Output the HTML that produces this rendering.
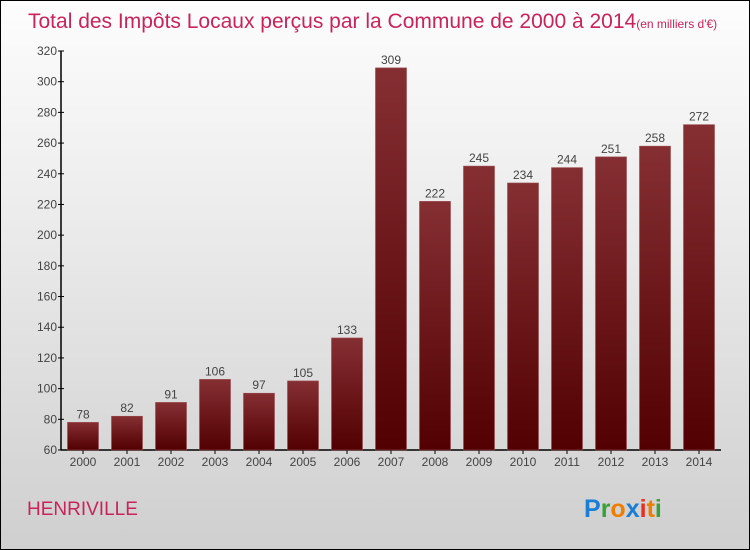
<!DOCTYPE html>
<html><head><meta charset="utf-8"><style>
body{margin:0}
#c{position:relative;width:748px;height:548px;border:1px solid #000;background:linear-gradient(#fdfdfd,#f0f0f0 30%,#cfcfcf);font-family:"Liberation Sans",sans-serif;overflow:hidden}
</style></head><body>
<div id="c">
<svg width="748" height="548">
<defs><linearGradient id="g" x1="0" y1="0" x2="0" y2="1"><stop offset="0" stop-color="#852f33"/><stop offset="1" stop-color="#520002"/></linearGradient></defs>
<text x="27" y="27" font-size="21" fill="#c8245a">Total des Impôts Locaux perçus par la Commune de 2000 à 2014<tspan font-size="12">(en milliers d'€)</tspan></text>
<g id="axes"></g><g id="bars"></g>
<text x="26" y="514" font-size="19" fill="#c8245a">HENRIVILLE</text>
<g font-size="25" font-weight="bold"><text x="583" y="516"><tspan fill="#1a7fd4">P</tspan><tspan fill="#3aa03a">r</tspan><tspan fill="#f07c00">o</tspan><tspan fill="#1a7fd4">x</tspan><tspan fill="#e83020">i</tspan><tspan fill="#f07c00">t</tspan><tspan fill="#3aa03a">i</tspan></text></g>
</svg></div>
<script>
const years=["2000","2001","2002","2003","2004","2005","2006","2007","2008","2009","2010","2011","2012","2013","2014"];
const values=[78,82,91,106,97,105,133,309,222,245,234,244,251,258,272];
const yTicks=[60,80,100,120,140,160,180,200,220,240,260,280,300,320];
const NS="http://www.w3.org/2000/svg";
const x0=60,x1=720,yB=449,yT=50,vMin=60,vMax=320;
const y=v=>yB-(v-vMin)*(yB-yT)/(vMax-vMin);
const slot=(x1-x0)/years.length;
const xc=i=>x0+slot*(i+0.5);
function mk(t,a,p){const e=document.createElementNS(NS,t);for(const k in a)e.setAttribute(k,a[k]);p.appendChild(e);return e;}
const ax=document.getElementById('axes'),bg=document.getElementById('bars');
let l=mk('line',{x1:x0,y1:yT,x2:x0,y2:yB,stroke:'#000','stroke-width':1.5},ax);


l=mk('line',{x1:x0,y1:yB,x2:x1,y2:yB,stroke:'#000','stroke-width':1.5},ax);


yTicks.forEach(v=>{
 mk('line',{x1:x0-3,y1:y(v),x2:x0+3,y2:y(v),stroke:'#000'},ax);
 const t=mk('text',{x:x0-4,y:y(v)+4,'font-size':12,fill:'#444','text-anchor':'end'},ax);
 t.textContent=v;
 
 
});
years.forEach((yr,i)=>{
 const w=31,h=yB-y(values[i]);
 const r=mk('rect',{x:xc(i)-w/2,y:y(values[i]),width:w,height:h,fill:'url(#g)',stroke:'#9a4a4e','stroke-width':0.6},bg);
 
 
 const vl=mk('text',{x:xc(i),y:y(values[i])-4,'font-size':12,fill:'#444','text-anchor':'middle'},bg);
 vl.textContent=values[i];
 
 
 mk('line',{x1:xc(i),y1:yB,x2:xc(i),y2:yB+4,stroke:'#000'},ax);
 const xl=mk('text',{x:xc(i),y:yB+16,'font-size':12,fill:'#444','text-anchor':'middle'},ax);
 xl.textContent=yr;
 
 
});
</script>
</body></html>
